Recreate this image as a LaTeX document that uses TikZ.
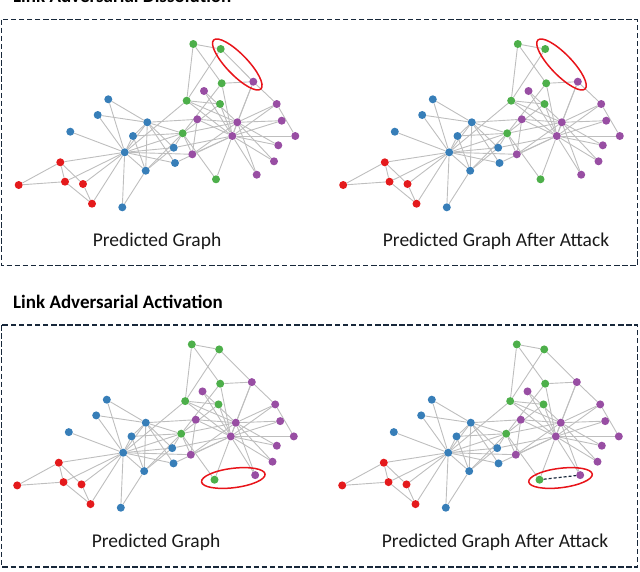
\documentclass[tikz,border=0pt]{standalone}
\usepackage{fontspec}
\setmainfont{Carlito}
\usetikzlibrary{backgrounds}
\definecolor{cg}{RGB}{77,175,74}
\definecolor{cp}{RGB}{152,78,163}
\definecolor{cb}{RGB}{55,126,184}
\definecolor{cr}{RGB}{228,26,28}
\definecolor{framecol}{RGB}{24,40,58}
\definecolor{ringcol}{RGB}{232,20,26}
\definecolor{edgecol}{RGB}{190,190,190}
\tikzset{
  dot/.style={circle,draw=none,inner sep=0pt,minimum size=8pt},
  edge/.style={draw=edgecol,line width=0.9pt},
  frame/.style={draw=framecol,line width=1.3pt,dash pattern=on 5.5pt off 2.6pt},
  ring/.style={draw=ringcol,line width=1.5pt},
  newedge/.style={draw=framecol,line width=1.2pt,dash pattern=on 3pt off 2pt},
  lab/.style={font=\fontsize{19.5}{22}\selectfont,text=black!90,inner sep=0pt},
  ttl/.style={font=\fontsize{19}{22}\selectfont\bfseries,text=black,inner sep=0pt}
}
\newcommand\karnodes[3]{%
  \foreach \i/\x/\y/\c in {0/124.7/152.3/cb,1/147.3/122.3/cb,2/182.7/133.3/cg,
    3/145.7/170.7/cb,4/92/203.7/cr,5/60.3/162.3/cr,6/65/181.7/cr,7/133/136/cb,
    8/192.3/154.3/cp,9/216/179.3/cg,10/83/184/cr,11/70.3/131.7/cb,12/122.3/207.3/cb,
    13/173.7/147.7/cb,14/204/91/cp,15/281.7/120.7/cp,16/18.7/185/cr,17/108.3/99.3/cb,
    18/278.3/145.3/cp,19/175/163/cb,20/274/161.3/cp,21/97.7/115/cb,22/256.7/174.7/cp,
    23/253.3/81.7/cp,24/193.3/44/cg,25/220.7/49/cg,26/295.3/136/cp,27/221.7/83.3/cg,
    28/220/104/cg,29/276.7/104/cp,30/197.3/119.3/cp,31/186.7/100.7/cg,
    32/237.3/122.3/cp,33/232.3/136/cp}
  {\node[dot,fill=\c] (#1\i) at ({\x+#2},{\y+#3}) {};}%
}
\newcommand\karedges[1]{%
  \begin{scope}[on background layer]
  \foreach \u/\v in {0/1,0/2,0/3,0/4,0/5,0/6,0/7,0/8,0/10,0/11,0/12,0/13,0/17,0/19,0/21,0/31,
    1/2,1/3,1/7,1/13,1/17,1/19,1/21,1/30,
    2/3,2/7,2/8,2/9,2/13,2/27,2/28,2/32,
    3/7,3/12,3/13,4/6,4/10,5/6,5/10,5/16,6/16,
    8/30,8/32,8/33,9/33,13/33,14/32,14/33,15/32,15/33,18/32,18/33,19/33,
    20/32,20/33,22/32,22/33,23/27,23/29,23/32,23/33,
    24/25,24/27,24/31,25/31,26/29,26/33,27/33,28/31,28/33,
    29/32,29/33,30/32,30/33,31/32,31/33,32/33}
  {\draw[edge] (#1\u) -- (#1\v);}
  \end{scope}%
}
\begin{document}
\begin{tikzpicture}[x=1pt,y=-1pt]
\useasboundingbox (0,0) rectangle (640,571);

% titles and frames
\node[ttl,anchor=base west] (t1) at (13,2.6) {Link Adversarial Dissolution};
\node[ttl,anchor=base west] (t2) at (13,308) {Link Adversarial Activation};
\draw[frame] (1.5,19.6) rectangle (637.5,265.7);
\draw[frame] (1.5,325) rectangle (637.5,567);

% top-left: predicted graph
\karnodes{A}{0}{0}
\karedges{A}
\begin{scope}[on background layer]\draw[edge] (A23) -- (A25);\end{scope}
\draw[ring,rotate around={-46:(237.3,64.5)}] (237.3,64.5) ellipse [x radius=34pt,y radius=10.5pt];

% top-right: after dissolution (edge 23-25 removed)
\karnodes{B}{324.5}{0}
\karedges{B}
\draw[ring,rotate around={-46:(561.5,64.5)}] (561.5,64.5) ellipse [x radius=34pt,y radius=10.5pt];

% bottom-left: predicted graph
\karnodes{C}{-1.5}{300.4}
\karedges{C}
\begin{scope}[on background layer]\draw[edge] (C23) -- (C25);\end{scope}
\draw[ring,rotate around={7:(233.3,478)}] (233.3,478) ellipse [x radius=32pt,y radius=9.7pt];

% bottom-right: after activation (new edge 9-22)
\karnodes{D}{323.5}{300.4}
\karedges{D}
\begin{scope}[on background layer]\draw[edge] (D23) -- (D25);\end{scope}
\draw[newedge] (D9) -- (D22);
\draw[ring,rotate around={7:(560.5,478)}] (560.5,478) ellipse [x radius=32pt,y radius=9.7pt];

% labels
\node[lab] (l1) at (157,241.7) {Predicted Graph};
\node[lab] (l2) at (496,241.7) {Predicted Graph After Attack};
\node[lab] (l3) at (156,542) {Predicted Graph};
\node[lab] (l4) at (495,542) {Predicted Graph After Attack};
\end{tikzpicture}
\end{document}
